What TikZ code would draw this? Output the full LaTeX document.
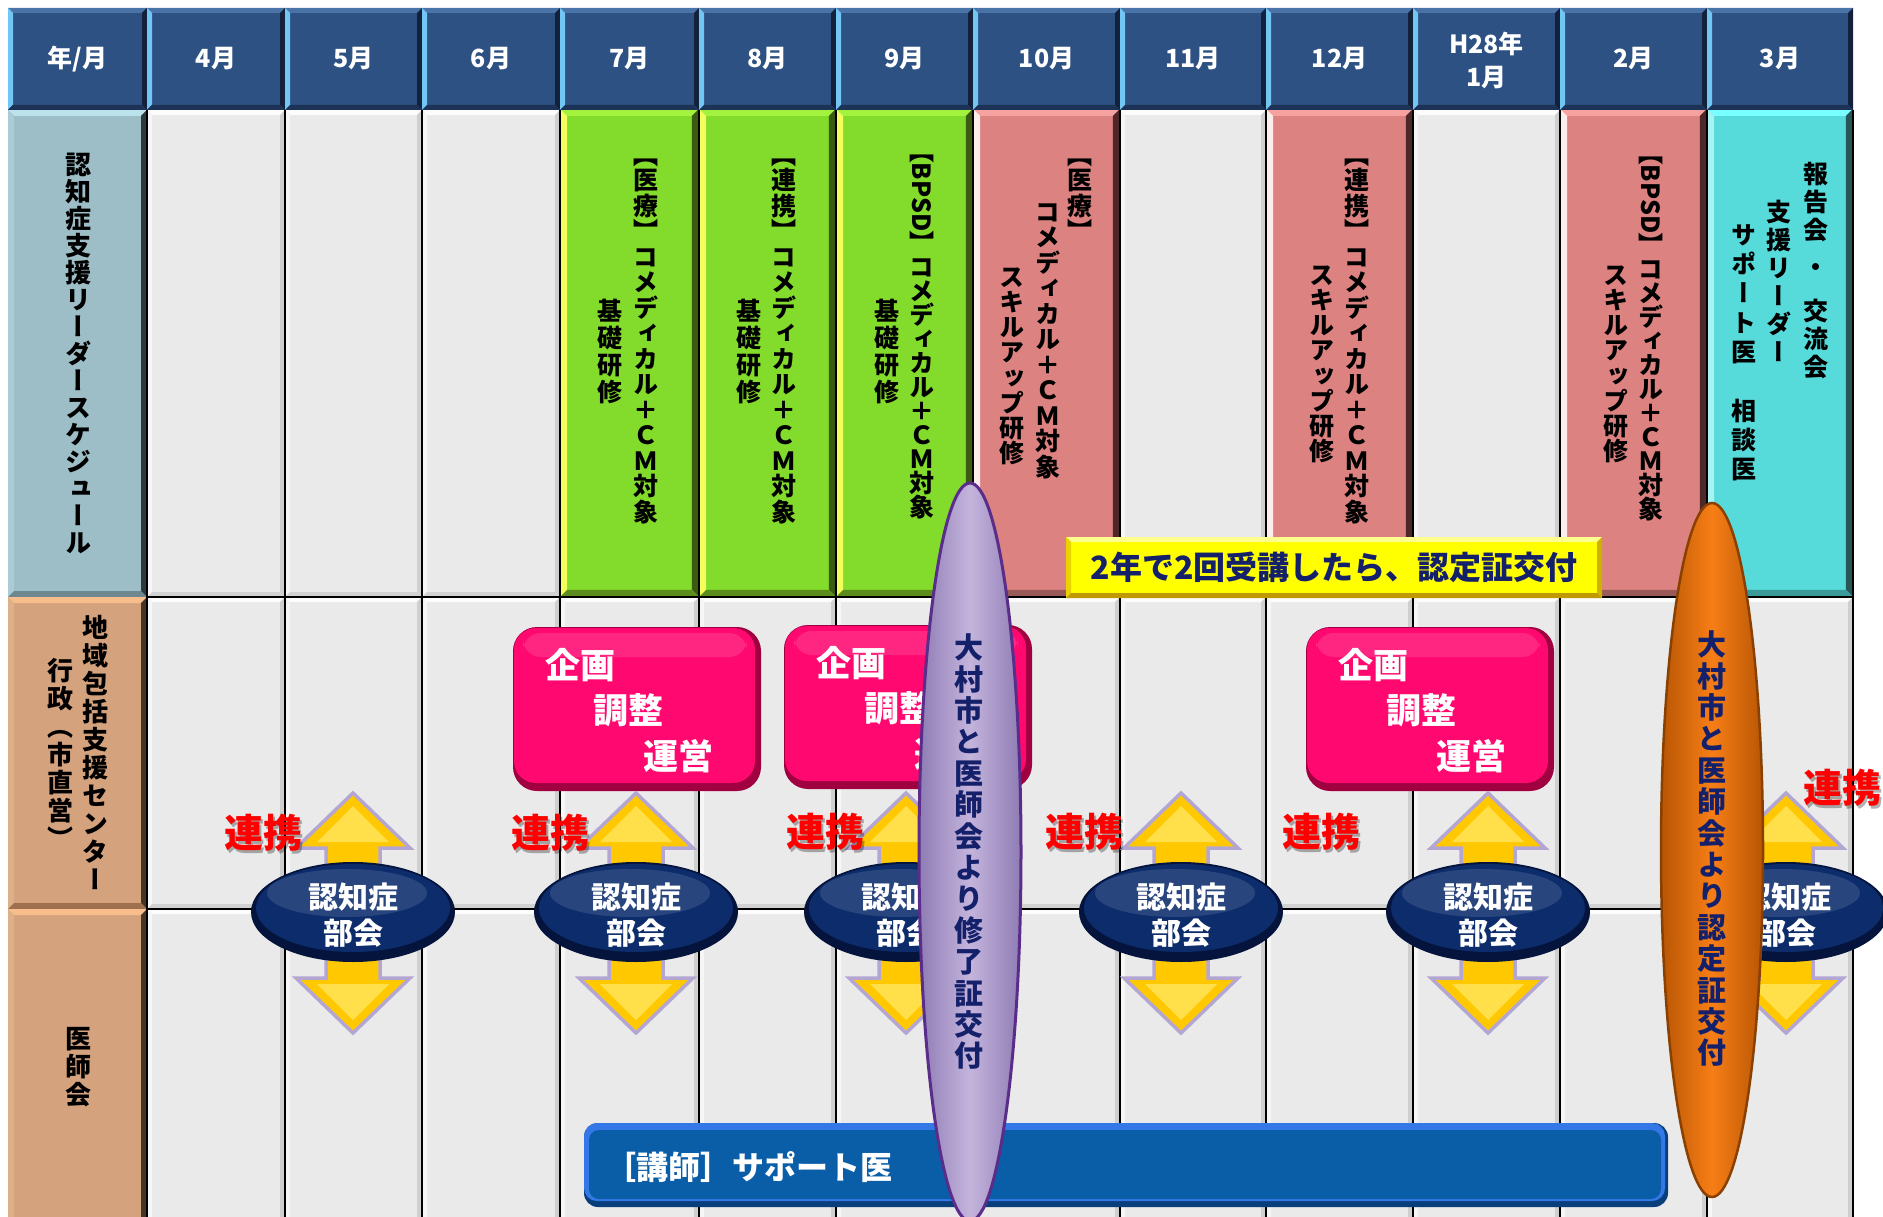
\documentclass[tikz,border=0pt]{standalone}
\usepackage{graphicx}
\usepackage{fontspec}
\newfontfamily\jp{Noto Sans CJK JP}
\newfontfamily\jpv{Noto Sans CJK JP}[RawFeature=+vert]

\definecolor{hdr}{HTML}{2D5182}
\definecolor{hdrT}{HTML}{4A74A8}
\definecolor{hdrL}{HTML}{72C6F4}
\definecolor{hdrR}{HTML}{13223A}
\definecolor{hdrB}{HTML}{1C3256}
\definecolor{gry}{HTML}{EAEAEA}
\definecolor{gryT}{HTML}{FCFCFC}
\definecolor{gryL}{HTML}{F6F6F6}
\definecolor{gryR}{HTML}{CFCFCF}
\definecolor{gryB}{HTML}{D2D2D2}
\definecolor{grn}{HTML}{83DB2B}
\definecolor{grnT}{HTML}{A2F23E}
\definecolor{grnL}{HTML}{F4FF5E}
\definecolor{grnR}{HTML}{3B5A12}
\definecolor{grnB}{HTML}{5C8C1C}
\definecolor{sal}{HTML}{DC8280}
\definecolor{salT}{HTML}{F6A2A0}
\definecolor{salL}{HTML}{FBEDED}
\definecolor{salR}{HTML}{4E2828}
\definecolor{salB}{HTML}{9A5A58}
\definecolor{cya}{HTML}{56DADA}
\definecolor{cyaT}{HTML}{78FFFF}
\definecolor{cyaL}{HTML}{A8F2F2}
\definecolor{cyaR}{HTML}{285656}
\definecolor{cyaB}{HTML}{3A9A9A}
\definecolor{lbl}{HTML}{9DBDC7}
\definecolor{lblT}{HTML}{BCE2EC}
\definecolor{lblL}{HTML}{ABCCD5}
\definecolor{lblR}{HTML}{2C393D}
\definecolor{lblB}{HTML}{6E8890}
\definecolor{tanc}{HTML}{D4A27C}
\definecolor{tancT}{HTML}{F7BE8C}
\definecolor{tancL}{HTML}{DDB08A}
\definecolor{tancR}{HTML}{483424}
\definecolor{tancB}{HTML}{9E7050}
\definecolor{pink}{HTML}{FF0870}
\definecolor{pinkD}{HTML}{A00040}
\definecolor{navy}{HTML}{0C2C6C}
\definecolor{navyD}{HTML}{04143C}
\definecolor{gold}{HTML}{FFC800}
\definecolor{goldL}{HTML}{FFE04A}
\definecolor{lav}{HTML}{B4A6D2}
\definecolor{rd}{HTML}{FF0000}
\definecolor{ylw}{HTML}{FFFF00}
\definecolor{ylwT}{HTML}{FFFF90}
\definecolor{ylwL}{HTML}{E8D200}
\definecolor{ylwR}{HTML}{D0B000}
\definecolor{ylwB}{HTML}{C09800}
\definecolor{txtnavy}{HTML}{14206A}
\definecolor{barB}{HTML}{0A5EA8}
\definecolor{barL}{HTML}{3478E8}
\definecolor{barD}{HTML}{083E7A}
\definecolor{purp}{HTML}{C4B4DC}
\definecolor{purpD}{HTML}{8E7CB4}
\definecolor{purpE}{HTML}{5A2D8A}
\definecolor{orng}{HTML}{F77E16}
\definecolor{orngD}{HTML}{B85604}
\definecolor{orngE}{HTML}{8A4000}

% beveled cell: x1 y1 x2 y2 base top left right bottom
\def\bw{5}
\newcommand\bcell[9]{%
  \fill[#5] (#1,#2) rectangle (#3,#4);
  \fill[#6] (#1,#2) -- (#3,#2) -- (#3-\bw,#2+\bw) -- (#1+\bw,#2+\bw) -- cycle;
  \fill[#7] (#1,#2) -- (#1+\bw,#2+\bw) -- (#1+\bw,#4-\bw) -- (#1,#4) -- cycle;
  \fill[#8] (#3,#2) -- (#3,#4) -- (#3-\bw,#4-\bw) -- (#3-\bw,#2+\bw) -- cycle;
  \fill[#9] (#1,#4) -- (#3,#4) -- (#3-\bw,#4-\bw) -- (#1+\bw,#4-\bw) -- cycle;
}

% vertical (tategaki) column
\newdimen\vgap
\let\vcolend\relax
\def\vcolendmark{\vcolend}
\newcommand\vcol[2][1em]{\vgap=\dimexpr#1-1em\relax\vbox{\offinterlineskip\vcolloop#2\vcolend}}
\def\vcolloop#1{\def\vcolarg{#1}\ifx\vcolarg\vcolendmark\else\hbox to 1em{\hss\vrule height .88em depth .12em width 0pt\relax#1\hss}\kern\vgap\expandafter\vcolloop\fi}
\newcommand\vrot[1]{\raisebox{.85em}{\rotatebox{-90}{#1}}}
\newcommand\vdot{\lower.62em\vbox to 2em{\vss\hbox{・}\vss}}

\tikzset{
  hdrtxt/.style={text=white, inner sep=0pt, align=center, font=\jp\bfseries\fontsize{25}{33}\selectfont},
  vt/.style={anchor=north, inner sep=0pt, font=\jpv\bfseries\fontsize{25}{25}\selectfont},
  vlbl/.style={anchor=north, inner sep=0pt, font=\jpv\bfseries\fontsize{26}{26}\selectfont},
  vell/.style={anchor=north, inner sep=0pt, text=txtnavy, font=\jpv\bfseries\fontsize{29}{29}\selectfont},
  bktxt/.style={text=white, inner sep=0pt, font=\jp\bfseries\fontsize{30}{30}\selectfont},
  kktxt/.style={text=white, inner sep=0pt, font=\jp\bfseries\fontsize{35}{35}\selectfont},
  rktxt/.style={text=rd, inner sep=0pt, font=\jp\bfseries\fontsize{39}{39}\selectfont},
  rkshadow/.style={text=black, opacity=.3, inner sep=0pt, font=\jp\bfseries\fontsize{39}{39}\selectfont},
  gridline/.style={black, line width=2.5pt},
  arrowshape/.style={fill=gold, draw=lav, line width=3.5pt, line join=miter},
}

\newcommand\dblarrow[1]{%
  \filldraw[arrowshape] (#1,793) -- (#1+57,848) -- (#1+27,848) -- (#1+27,978) -- (#1+57,978) -- (#1,1033) -- (#1-57,978) -- (#1-27,978) -- (#1-27,848) -- (#1-57,848) -- cycle;
  \fill[goldL] (#1,806) -- (#1+36,842) -- (#1-36,842) -- cycle;
  \fill[goldL] (#1,1020) -- (#1+36,984) -- (#1-36,984) -- cycle;
}
\newcommand\bukai[2]{%
  \fill[navyD] (#1,912) ellipse [x radius=102, y radius=50];
  \fill[navy] (#1,908) ellipse [x radius=97, y radius=44];
  \fill[white, opacity=.12] (#1-6,893) ellipse [x radius=80, y radius=24];
  \node[bktxt] (#2a) at (#1,897) {認知症};
  \node[bktxt] (#2b) at (#1,933) {部会};
}
\newcommand\kikaku[3]{%
  \fill[pinkD, rounded corners=24pt] (#1,#2) rectangle (#1+248,#2+164);
  \fill[pink, rounded corners=22pt] (#1+1,#2+1) rectangle (#1+242,#2+156);
  \fill[white, opacity=.12, rounded corners=18pt] (#1+10,#2+6) rectangle (#1+234,#2+30);
  \node[kktxt] (#3a) at (#1+67,#2+38) {企画};
  \node[kktxt] (#3b) at (#1+115,#2+83) {調整};
  \node[kktxt] (#3c) at (#1+165,#2+129) {運営};
}
\newcommand\renkei[3]{%
  \node[rkshadow] (#3s) at (#1+2.5,#2+2.5) {連携};
  \node[rktxt] (#3) at (#1,#2) {連携};
}

\begin{document}
\begin{tikzpicture}[x=1pt,y=-1pt]
\useasboundingbox (0,0) rectangle (1883,1217);
\clip (0,0) rectangle (1883,1217);
\fill[white] (0,0) rectangle (1883,1217);

% ---- gray body cells
\def\bw{5}
\foreach \a/\b in {147/285,285/422,422/560,560/699,699/836,836/973,973/1120,1120/1266,1266/1413,1413/1560,1560/1707,1707/1853}{
  \bcell{\a}{110}{\b}{597}{gry}{gryT}{gryL}{gryR}{gryB}
  \bcell{\a}{597}{\b}{909}{gry}{gryT}{gryL}{gryR}{gryB}
  \bcell{\a}{909}{\b}{1230}{gry}{gryT}{gryL}{gryR}{gryB}
}
% ---- label column
\def\bw{6}
\bcell{8}{110}{147}{597}{lbl}{lblT}{lblL}{lblR}{lblB}
\bcell{8}{597}{147}{909}{tanc}{tancT}{tancL}{tancR}{tancB}
\bcell{8}{909}{147}{1230}{tanc}{tancT}{tancL}{tancR}{tancB}

% ---- grid lines
\foreach \x in {147,285,422,560,699,836,973,1120,1266,1413,1560,1707,1853}
  \draw[gridline] (\x,110) -- (\x,1230);
\draw[gridline] (147,597) -- (1853,597);
\draw[gridline] (147,909) -- (1853,909);

% ---- coloured schedule cells
\def\bw{6}
\bcell{561.2}{110}{697.8}{595.8}{grn}{grnT}{grnL}{grnR}{grnB}
\bcell{700.2}{110}{834.8}{595.8}{grn}{grnT}{grnL}{grnR}{grnB}
\bcell{837.2}{110}{971.8}{595.8}{grn}{grnT}{grnL}{grnR}{grnB}
\bcell{974.2}{110}{1118.8}{595.8}{sal}{salT}{salL}{salR}{salB}
\bcell{1267.2}{110}{1411.8}{595.8}{sal}{salT}{salL}{salR}{salB}
\bcell{1561.2}{110}{1705.8}{595.8}{sal}{salT}{salL}{salR}{salB}
\bcell{1708.2}{110}{1851.8}{595.8}{cya}{cyaT}{cyaL}{cyaR}{cyaB}

% ---- header row
\def\bw{5}
\foreach \a/\b in {8/147,147/285,285/422,422/560,560/699,699/836,836/973,973/1120,1120/1266,1266/1413,1413/1560,1560/1707,1707/1853}{
  \bcell{\a}{8}{\b}{110}{hdr}{hdrT}{hdrL}{hdrR}{hdrB}
}
\node[hdrtxt] (h0) at (77.5,59) {年/月};
\node[hdrtxt] (h4) at (216,59) {4月};
\node[hdrtxt] (h5) at (353.5,59) {5月};
\node[hdrtxt] (h6) at (491,59) {6月};
\node[hdrtxt] (h7) at (629.5,59) {7月};
\node[hdrtxt] (h8) at (767.5,59) {8月};
\node[hdrtxt] (h9) at (904.5,59) {9月};
\node[hdrtxt] (h10) at (1046.5,59) {10月};
\node[hdrtxt] (h11) at (1193,59) {11月};
\node[hdrtxt] (h12) at (1339.5,59) {12月};
\node[hdrtxt] (h1) at (1486.5,60) {H28年\\1月};
\node[hdrtxt] (h2) at (1633.5,59) {2月};
\node[hdrtxt] (h3) at (1780,59) {3月};

% ---- row labels
\node[vlbl] (lab1) at (78,151) {\vcol[27pt]{認知症支援リーダースケジュール}};
\node[vlbl] (lab2a) at (95,614) {\vcol[28pt]{地域包括支援センター}};
\node[vlbl] (lab2b) at (60,657) {\vcol[28pt]{行政（市直営）}};
\node[vlbl] (lab3) at (78,1025) {\vcol[28pt]{医師会}};

% ---- schedule texts
\node[vt] (t7a) at (646,142) {\vcol[25.5pt]{【医療】コメディカル＋ＣＭ対象}};
\node[vt] (t7b) at (610,298) {\vcol[27pt]{基礎研修}};
\node[vt] (t8a) at (784,142) {\vcol[25.5pt]{【連携】コメディカル＋ＣＭ対象}};
\node[vt] (t8b) at (749,298) {\vcol[27pt]{基礎研修}};
\node[vt] (t9a) at (922,138) {\vcol[24pt]{【{\vrot{BPSD}}】コメディカル＋ＣＭ対象}};
\node[vt] (t9b) at (887,298) {\vcol[27pt]{基礎研修}};
\node[vt] (t10a) at (1080,142) {\vcol[25.5pt]{【医療】}};
\node[vt] (t10b) at (1048,199) {\vcol[25.5pt]{コメディカル＋ＣＭ対象}};
\node[vt] (t10c) at (1012,264) {\vcol[25.2pt]{スキルアップ研修}};
\node[vt] (t12a) at (1357,142) {\vcol[25.5pt]{【連携】コメディカル＋ＣＭ対象}};
\node[vt] (t12b) at (1322,262) {\vcol[25.2pt]{スキルアップ研修}};
\node[vt] (t2a) at (1651,140) {\vcol[24pt]{【{\vrot{BPSD}}】コメディカル＋ＣＭ対象}};
\node[vt] (t2b) at (1616,262) {\vcol[25.2pt]{スキルアップ研修}};
\node[vt] (t3a) at (1816,161) {\vcol[28pt]{報告会{\vdot}交流会}};
\node[vt] (t3b) at (1779,199) {\vcol[28pt]{支援リーダー}};
\node[vt] (t3c) at (1744,222) {\vcol[29.3pt]{サポート医　相談医}};

% ---- yellow banner
\def\bw{5}
\bcell{1066}{537}{1602}{598}{ylw}{ylwT}{ylwL}{ylwR}{ylwB}
\node[text=txtnavy, inner sep=0pt, font=\jp\bfseries\fontsize{32}{32}\selectfont] (banner) at (1334,567) {2年で2回受講したら、認定証交付};

% ---- planning boxes
\kikaku{513}{627}{k1}
\kikaku{784}{625}{k2}
\kikaku{1306}{627}{k3}

% ---- double arrows and committee ellipses
\foreach \c in {353,636,906,1181,1488,1786}{\dblarrow{\c}}
\bukai{353}{b1}
\bukai{636}{b2}
\bukai{906}{b3}
\bukai{1181}{b4}
\bukai{1488}{b5}
\bukai{1786}{b6}

\renkei{263}{833}{r1}
\renkei{550}{833}{r2}
\renkei{825}{832}{r3}
\renkei{1084}{832}{r4}
\renkei{1321}{832}{r5}
\renkei{1842}{788}{r6}

% ---- lecturer bar
\fill[barD, rounded corners=14pt] (584,1123) rectangle (1668,1207);
\fill[barL, rounded corners=13pt] (584,1123) rectangle (1665,1201);
\fill[barB, rounded corners=10pt] (589,1130) rectangle (1661,1199);
\node[anchor=west, text=white, inner sep=0pt, font=\jp\bfseries\fontsize{32}{32}\selectfont] (bar) at (604,1167) {［講師］サポート医};

% ---- certificate ellipses
\shade[left color=purpD, right color=purpD, middle color=purp] (970,852) ellipse [x radius=51, y radius=369];
\draw[purpE, line width=3pt] (970,852) ellipse [x radius=51, y radius=369];
\node[vell] (cert1) at (969,633) {\vcol[31.4pt]{大村市と医師会より修了証交付}};

\shade[left color=orngD, right color=orngD, middle color=orng] (1712,850) ellipse [x radius=51, y radius=347];
\draw[orngE, line width=2.5pt] (1712,850) ellipse [x radius=51, y radius=347];
\node[vell] (cert2) at (1712,630) {\vcol[31.4pt]{大村市と医師会より認定証交付}};

\end{tikzpicture}
\end{document}
